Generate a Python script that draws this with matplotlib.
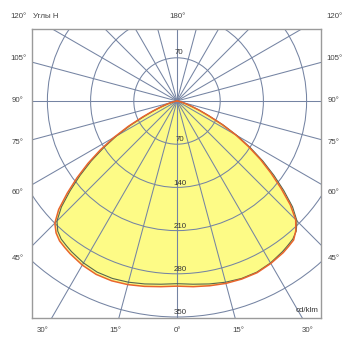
import numpy as np
import matplotlib
matplotlib.use("Agg")
import matplotlib.pyplot as plt
from matplotlib.patches import Circle

# ---- data (cd/klm) ----
gamma = [0, 5, 10, 15, 20, 25, 30, 35, 37.5, 40, 42.5, 45, 47.5, 50, 52.5, 55,
         57.5, 60, 62.5, 65, 67.5, 70, 72.5, 75, 80, 85, 90]
# C0-180 plane (red): left half (C180) and right half (C0)
red_left = [300, 302, 305, 308, 310, 310, 307, 302, 299, 296, 290, 280, 260, 232, 204, 176,
            147, 118, 89, 62, 42, 27, 17, 10, 3, 1, 0]
red_right = [300, 302, 304, 306, 307, 307, 304, 300, 297, 294, 285, 272, 249, 220, 192, 165,
             137, 110, 82, 56, 38, 24, 15, 9, 3, 1, 0]
# C90-270 plane (grey)
grey_vals = [296, 298, 301, 304, 306, 306, 303, 298, 295, 292, 286, 275, 254, 226, 198, 170,
             141, 113, 85, 58, 40, 25, 16, 9, 3, 1, 0]

ring_values = [70, 140, 210, 280, 350]
ray_angles = list(range(0, 181, 15))
side_labels = ["120°", "105°", "90°", "75°", "60°", "45°"]
side_label_y = [16, 59, 101, 143, 192, 259]
bottom_labels = ["30°", "15°", "0°", "15°", "30°"]
bottom_label_x = [43, 115, 177, 238, 308]

W, H = 359, 350
fig = plt.figure(figsize=(W / 100, H / 100), dpi=100)
fig.patch.set_facecolor("white")

bx0, bx1, by0, by1 = 32, 321, 29, 318
cx, cy = 177, 101
scale = 216 / 350.0
ax = fig.add_axes([bx0 / W, 1 - by1 / H, (bx1 - bx0) / W, (by1 - by0) / H])
ax.set_xlim((bx0 - cx) / scale, (bx1 - cx) / scale)
ax.set_ylim((cy - by1) / scale, (cy - by0) / scale)
ax.set_xticks([])
ax.set_yticks([])
for s in ax.spines.values():
    s.set_color("#9a9a9a")
    s.set_linewidth(1.0)

grid_c = "#7584a3"


def curve_xy(left, right):
    g = np.radians(gamma)
    xl = -np.array(left) * np.sin(g)
    yl = -np.array(left) * np.cos(g)
    xr = np.array(right) * np.sin(g)
    yr = -np.array(right) * np.cos(g)
    x = np.concatenate([xl[::-1], xr[1:]])
    y = np.concatenate([yl[::-1], yr[1:]])
    return x, y


rx, ry = curve_xy(red_left, red_right)
gx, gy = curve_xy(grey_vals, grey_vals)

fill_c = "#fdfb86"
ax.fill(rx, ry, color=fill_c, zorder=1, lw=0)
ax.fill(gx, gy, color=fill_c, zorder=1, lw=0)

for r in ring_values:
    ax.add_patch(Circle((0, 0), r, fill=False, ec=grid_c, lw=0.75, zorder=2))
for a in ray_angles:
    t = np.radians(a)
    for sgn in (1, -1):
        ax.plot([0, sgn * 800 * np.sin(t)], [0, -800 * np.cos(t)], color=grid_c, lw=0.75, zorder=2)

ax.plot(rx, ry, color="#e9652c", lw=1.1, zorder=4, solid_joinstyle="round")
ax.plot(gx, gy, color="#56664f", lw=0.8, zorder=3, solid_joinstyle="round")

txt_c = "#333333"
ax.text(3, 70 + 8, "70", fontsize=5.7, ha="center", va="center", color=txt_c,
        family="Liberation Sans", zorder=5)
for r in ring_values:
    ax.text(5, -r + 7, str(r), fontsize=5.7, ha="center", va="center", color=txt_c,
            family="Liberation Sans", zorder=5)

ax.text(0.99, 0.015, "cd/klm", transform=ax.transAxes, fontsize=5.7, ha="right", va="bottom",
        color=txt_c, family="Liberation Sans", zorder=5)


def ftext(px, py, s, ha="center"):
    fig.text(px / W, 1 - py / H, s, fontsize=5.7, ha=ha, va="center", color="#444444",
             family="Liberation Sans")


for s, py in zip(side_labels, side_label_y):
    ftext(18, py, s)
    ftext(334, py, s)
ftext(177, 16, "180°")
ftext(33, 16, "Углы Н", ha="left")
for s, px in zip(bottom_labels, bottom_label_x):
    ftext(px, 331, s)

fig.savefig("out.png", dpi=100, facecolor="white")
